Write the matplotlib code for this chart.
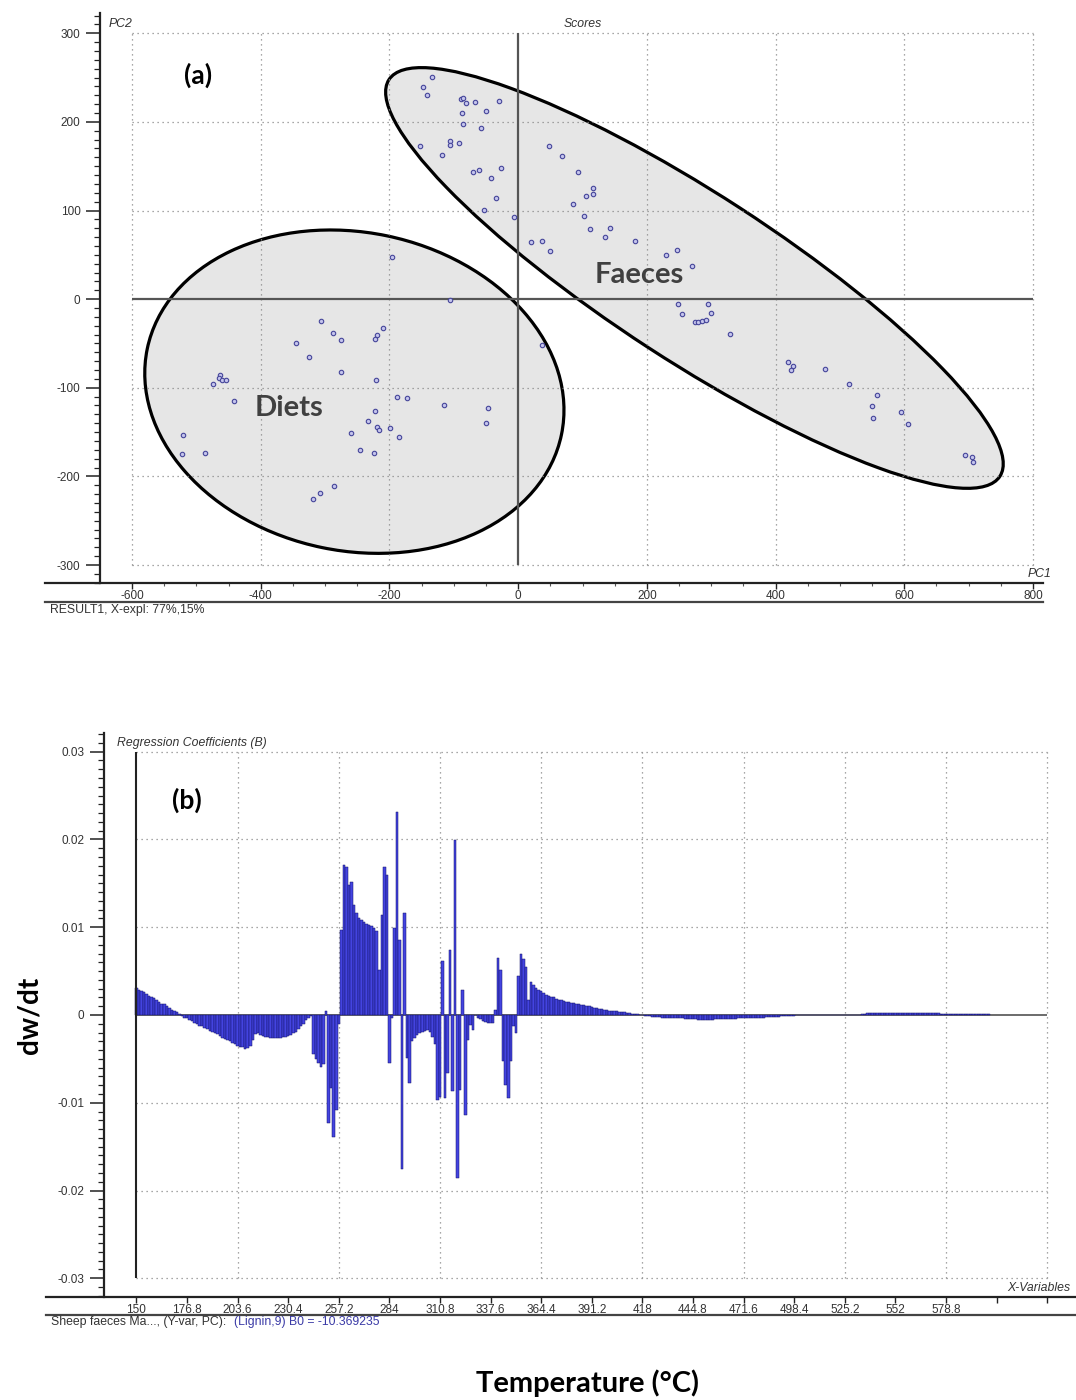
import numpy as np
import matplotlib
matplotlib.use("Agg")
import matplotlib.pyplot as plt
from matplotlib.patches import Ellipse
from matplotlib.transforms import Affine2D, ScaledTranslation
from matplotlib.ticker import FixedLocator

plt.rcParams['axes.unicode_minus'] = False
plt.rcParams['font.family'] = ['Liberation Sans', 'DejaVu Sans']

# ---------------- (a) PCA scores ----------------
diet_pc1 = [-305.9, -287.7, -275.9, -344.5, -210.5, -219.1, -222.3, -325.2, -274.8, -221.2,
            -463.4, -464.5, -459.6, -453.8, -474.1, -442.0, -188.0, -173.0, -115.2, -47.1,
            -49.8, -222.3, -233.0, -219.1, -217.0, -199.3, -259.8, -185.4, -521.3, -522.3,
            -486.4, -246.4, -224.5, -286.1, -308.0, -319.3, -106.0, -196.2, 37.7]
diet_pc2 = [-24.1, -38.0, -46.2, -49.2, -32.3, -41.0, -45.1, -65.8, -82.3, -91.0,
            -86.1, -89.5, -91.4, -91.7, -95.5, -114.7, -110.5, -112.0, -119.9, -122.9,
            -139.8, -126.3, -137.2, -144.7, -147.7, -145.1, -150.8, -156.0, -153.8, -174.8,
            -174.1, -170.3, -174.1, -211.3, -218.8, -225.6, -1.5, 47.8, -52.3]

faeces_pc1 = [-133.5, -147.6, -142.2, -89.2, -86.0, -81.0, -67.6, -29.7, -87.0, -50.3,
              -85.9, -58.4, -152.4, -106.0, -106.0, -91.4, -118.4, -70.8, -61.1, -42.2,
              -25.9, -34.0, -53.0, -7.0, 20.5, 36.6, 50.2, 48.5, 68.5, 92.9,
              115.6, 105.9, 115.6, 85.9, 102.1, 112.4, 142.1, 135.6, 182.1, 229.2,
              247.1, 270.3, 248.1, 294.7, 254.1, 299.5, 274.1, 279.5, 286.0, 291.4,
              329.3, 418.6, 426.7, 424.5, 477.5, 514.8, 557.0, 549.4, 552.1, 594.3,
              605.2, 693.9, 705.8, 706.9]
faeces_pc2 = [250.3, 239.0, 230.7, 225.4, 227.0, 221.7, 222.0, 224.0, 210.4, 211.9,
              197.2, 193.0, 172.7, 178.0, 173.5, 176.5, 162.6, 143.0, 145.3, 136.2,
              148.3, 114.4, 100.9, 92.2, 64.7, 65.1, 54.2, 172.8, 161.1, 143.0,
              125.7, 116.3, 118.9, 107.6, 94.1, 79.0, 79.8, 70.4, 65.9, 49.3,
              55.0, 36.9, -5.6, -6.0, -16.9, -15.4, -26.3, -25.6, -24.4, -23.3,
              -39.5, -71.0, -75.2, -79.7, -78.6, -96.2, -108.3, -120.7, -133.8, -127.8,
              -141.0, -176.3, -177.8, -183.5]

pc1_ticks = [-600, -400, -200, 0, 200, 400, 600, 800]
pc2_ticks = [-300, -200, -100, 0, 100, 200, 300]

# ---------------- (b) regression coefficients (units of 1e-4) ----------------
coef_150_242 = [31, 29, 27, 26, 24, 22, 20, 19, 17, 15, 13, 12, 10, 8, 6, 5, 3, 1,
                -1, -3, -4, -6, -7, -9, -10, -12, -13, -15, -16, -18, -19, -21, -22, -24,
                -26, -27, -29, -30, -32, -33, -35, -36, -37, -39, -38, -35,
                -28, -22, -21, -23, -24, -25, -25, -26, -26, -26, -26, -26, -25, -25,
                -24, -23, -21, -19, -16, -13, -10, -6, -3, -1]
coef_244_283 = [-44, -50, -55, -59, -56, 4, -123, -83, -139, -108, -10,
                97, 171, 169, 148, 152, 125, 116, 111, 108, 106, 104, 102, 101, 99,
                96, 51, 114, 169, 160]
coef_284_350 = [-55, -4, 99, 231, 85, -175, 116, -49, -78, -30,
                -26, -23, -21, -19, -18, -17, -19, -25, -33, -97,
                -93, 61, -95, -66, 74, -87, 199, -186, -85, 28,
                -114, -28, -11, -17, 0, -3, -5, -7, -8, -9,
                -9, -9, 6, 65, 51, -53, -80, -95, -53, -13]
coef_351_417 = [-21, 44, 69, 64, 55, 17, 38, 34, 31, 29,
                27, 25, 23, 22, 21, 20, 18, 17, 17, 16,
                15, 15, 14, 14, 13, 12, 11, 11, 10, 10,
                9, 8, 8, 7, 7, 6, 6, 5, 5, 4,
                4, 3, 3, 3, 2, 2, 1, 1, 1, 0]
coef_418_602 = [0, -1, -1, -1, -2, -2, -2, -2, -3, -3, -3, -3, -4, -4, -4, -4, -4, -5, -5,
                -5, -5, -5, -6, -6, -6, -6, -6, -6, -6, -5, -5, -5, -5, -5, -5, -5,
                -5, -5, -4, -4, -4, -4, -4, -3, -3, -3,
                -3, -3, -3, -2, -2, -2, -2, -2, -2, -1, -1, -1, -1, -1, -1,
                0, 0, 0, 0, 0, 0, 0, 0, 0, 0, 0, 0, 0, 0, 0, 0, 0, 0, 0, 0, 0, 0, 0, 0, 0, 0, 1,
                1, 2, 2, 2, 2, 2, 2, 2, 2, 2, 2, 2, 2, 2, 2, 2, 2, 2, 2, 2,
                2, 2, 2, 2, 2, 2, 2, 2, 2, 2, 1, 1, 1, 1, 1, 1, 1, 1, 1, 1,
                1, 1, 1, 1, 1, 1, 1, 1, 1, 1]
var_start, var_step = 150.0, 1.34
temp_ticks = [150, 176.8, 203.6, 230.4, 257.2, 284, 310.8, 337.6, 364.4, 391.2,
              418, 444.8, 471.6, 498.4, 525.2, 552, 578.8, 605.6, 632.4]
temp_labels = ['150', '176.8', '203.6', '230.4', '257.2', '284', '310.8', '337.6',
               '364.4', '391.2', '418', '444.8', '471.6', '498.4', '525.2', '552',
               '578.8', '', '']
coef_ticks = [-0.03, -0.02, -0.01, 0, 0.01, 0.02, 0.03]
coef_labels = ['-0.03', '-0.02', '-0.01', '0', '0.01', '0.02', '0.03']

coefs = np.array(coef_150_242 + coef_244_283 + coef_284_350 + coef_351_417 + coef_418_602) * 1e-4
temps = var_start + var_step * np.arange(len(coefs))

W, H = 1076, 1400
fig = plt.figure(figsize=(W / 100, H / 100), dpi=100)
TXT = '#333333'
GRID = dict(color='#8a8a8a', lw=0.9, linestyle=(0, (1, 3)), zorder=2)
TICKFS = 8.5
SMALLFS = 8.8


def ftext(px, py, s, **kw):
    fig.text(px / W, 1 - py / H, s, **kw)


# ---------- panel (a) ----------
ax1 = fig.add_axes([45 / W, 1 - 583 / H, 998 / W, 570 / H])
ax1.set_xlim(-735.2, 815.5)
ax1.set_ylim(-320.3, 322.9)
for s in ('top', 'right'):
    ax1.spines[s].set_visible(False)
ax1.spines['left'].set_position(('data', -649.7))
for s in ('left', 'bottom'):
    ax1.spines[s].set_linewidth(1.6)
    ax1.spines[s].set_color('#222222')
ax1.set_xticks(pc1_ticks)
ax1.set_yticks(pc2_ticks)
ax1.xaxis.set_minor_locator(FixedLocator([v for v in range(-550, 800, 50) if v % 200]))
ax1.yaxis.set_minor_locator(FixedLocator([v for v in range(-320, 321, 10) if v % 100]))
ax1.tick_params(axis='y', which='major', direction='out', length=10, width=1.1, pad=4.0,
                labelsize=TICKFS, labelcolor=TXT, color='#222222')
ax1.tick_params(axis='y', which='minor', direction='out', length=4.5, width=0.9, color='#222222')
ax1.tick_params(axis='x', which='major', direction='out', length=4, width=1.0, pad=1.0,
                labelsize=TICKFS, labelcolor=TXT, color='#222222')
ax1.tick_params(axis='x', which='minor', direction='out', length=2, width=0.8, color='#555555')

ax1.hlines([v for v in pc2_ticks if v != 0], pc1_ticks[0], pc1_ticks[-1], **GRID)
ax1.vlines([v for v in pc1_ticks if v != 0], pc2_ticks[0], pc2_ticks[-1], **GRID)
ax1.hlines(0, pc1_ticks[0], pc1_ticks[-1], color='#555555', lw=1.6, zorder=2)
ax1.vlines(0, pc2_ticks[0], pc2_ticks[-1], color='#555555', lw=1.6, zorder=2)


def group_ellipse(ax, cx, cy, a_px, b_px, ang):
    tr = Affine2D().scale(fig.dpi / 100.0) + ScaledTranslation(cx, cy, ax.transData)
    e = Ellipse((0, 0), 2 * a_px, 2 * b_px, angle=ang, transform=tr,
                facecolor='#e6e6e6', edgecolor='black', lw=2.3, zorder=1)
    ax.add_patch(e)


group_ellipse(ax1, -254.5, -104.4, 211.5, 159.2, -11.7)
group_ellipse(ax1, 273.9, 23.9, 364.2, 83.5, -33.0)

mk = dict(ls='none', marker='o', ms=3.2, mfc='#c4c4ec', mec='#45459a', mew=0.8, zorder=4)
ax1.plot(diet_pc1, diet_pc2, **mk)
ax1.plot(faeces_pc1, faeces_pc2, **mk)

ax1.text(-498, 253, '(a)', family='Lato', weight='bold', fontsize=19, ha='center', va='center')
ax1.text(-356.7, -123.3, 'Diets', family='Lato', weight='bold', fontsize=21,
         color='#404040', ha='center', va='center', zorder=5)
ax1.text(187.8, 27.3, 'Faeces', family='Lato', weight='bold', fontsize=21,
         color='#404040', ha='center', va='center', zorder=5)
ax1.plot([0, 1], [-0.0333, -0.0333], transform=ax1.transAxes, clip_on=False,
         color='#444444', lw=1.6)

ftext(109, 24, 'PC2', fontsize=SMALLFS, style='italic', color=TXT, ha='left', va='center')
ftext(583, 24, 'Scores', fontsize=SMALLFS, style='italic', color=TXT, ha='center', va='center')
ftext(1052, 574, 'PC1', fontsize=SMALLFS, style='italic', color=TXT, ha='right', va='center')
ftext(50, 610, 'RESULT1, X-expl: 77%,15%', fontsize=SMALLFS, color=TXT, ha='left', va='center')

# ---------- panel (b) ----------
ax2 = fig.add_axes([46 / W, 1 - 1296.7 / H, 1030 / W, 563.7 / H])
ax2.set_xlim(102.1, 647.7)
ax2.set_ylim(-0.0321, 0.03213)
for s in ('top', 'right'):
    ax2.spines[s].set_visible(False)
ax2.spines['left'].set_position(('data', 132.8))
for s in ('left', 'bottom'):
    ax2.spines[s].set_linewidth(1.6)
    ax2.spines[s].set_color('#222222')
ax2.set_xticks(temp_ticks)
ax2.set_xticklabels(temp_labels)
ax2.set_yticks(coef_ticks)
ax2.set_yticklabels(coef_labels)
ax2.yaxis.set_minor_locator(FixedLocator([k / 1000 for k in range(-32, 33) if k % 10]))
ax2.tick_params(axis='y', which='major', direction='out', length=10, width=1.1, pad=4.0,
                labelsize=TICKFS, labelcolor=TXT, color='#222222')
ax2.tick_params(axis='y', which='minor', direction='out', length=4.5, width=0.9, color='#222222')
ax2.tick_params(axis='x', which='major', direction='out', length=4, width=1.0, pad=1.0,
                labelsize=TICKFS, labelcolor=TXT, color='#222222')

grid_x = temp_ticks[2::2]
ax2.hlines([v for v in coef_ticks if v != 0], temp_ticks[0], temp_ticks[-1], **GRID)
ax2.vlines(grid_x, coef_ticks[0], coef_ticks[-1], **GRID)
ax2.hlines(0, temp_ticks[0], temp_ticks[-1], color='#606060', lw=1.3, zorder=2)
ax2.bar(temps, coefs, width=var_step, color='#4444e0', edgecolor='#12126a',
        linewidth=0.35, zorder=3)
ax2.vlines(temp_ticks[0], coef_ticks[0], coef_ticks[-1], color='#222222', lw=1.5, zorder=4)
ax2.plot([0, 1], [-0.0325, -0.0325], transform=ax2.transAxes, clip_on=False,
         color='#444444', lw=1.6)

ftext(117, 743, 'Regression Coefficients (B)', fontsize=SMALLFS, style='italic', color=TXT,
      ha='left', va='center')
ftext(1070, 1288, 'X-Variables', fontsize=SMALLFS, style='italic', color=TXT, ha='right', va='center')
ftext(51, 1322, 'Sheep faeces Ma..., (Y-var, PC): ', fontsize=SMALLFS, color=TXT, ha='left', va='center')
ftext(234, 1322, '(Lignin,9) B0 = -10.369235', fontsize=SMALLFS, color='#3a3aa6', ha='left', va='center')
ftext(187, 800, '(b)', family='Lato', weight='bold', fontsize=19, ha='center', va='center')
ftext(30, 1015, 'dw/dt', family='Lato', weight='bold', fontsize=20, rotation=90,
      ha='center', va='center')
ftext(588, 1383, 'Temperature (°C)', family='Lato', weight='bold', fontsize=21,
      ha='center', va='center')

fig.savefig('out.png', dpi=100, facecolor='white')
